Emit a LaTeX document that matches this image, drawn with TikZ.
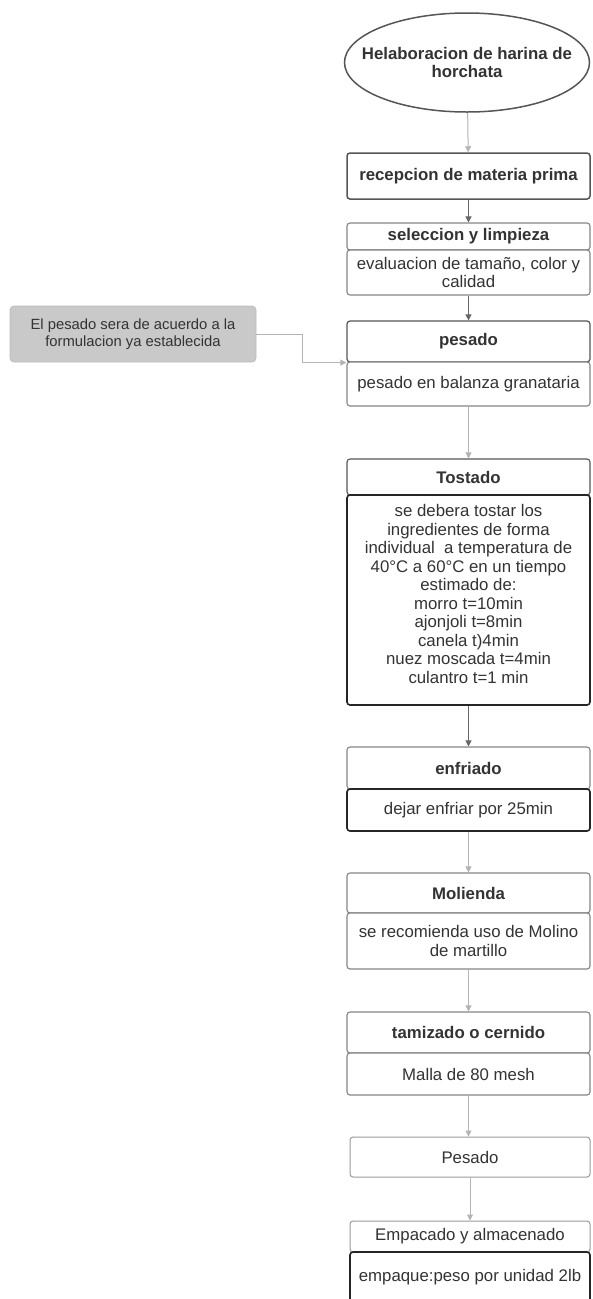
\documentclass[tikz,border=0pt]{standalone}
\usepackage{fontspec}
\setmainfont{Liberation Sans}
\usetikzlibrary{shapes.geometric,arrows.meta}
\definecolor{txt}{HTML}{333333}
\definecolor{bdark}{HTML}{555555}
\definecolor{bmid}{HTML}{858585}
\definecolor{blight}{HTML}{9A9A9A}
\definecolor{bblack}{HTML}{262626}
\definecolor{agray}{HTML}{B4B4B4}
\definecolor{adark}{HTML}{666666}
\definecolor{notefill}{HTML}{C9C9C9}
\definecolor{notedraw}{HTML}{BDBDBD}
\begin{document}
\begin{tikzpicture}[x=1pt,y=-1pt,
  base/.style={fill=white, rounded corners=3pt, inner sep=2pt, align=center, text=txt,
    font=\fontsize{16.8}{18.5}\selectfont},
  box/.style={base, draw=bmid, line width=1.1pt, minimum width=243pt},
  boxdark/.style={base, draw=bdark, line width=1.5pt, minimum width=243pt},
  boxlight/.style={base, draw=blight, line width=1pt, minimum width=240pt},
  boxblack/.style={base, draw=bblack, line width=1.6pt, minimum width=243pt},
  ttl/.style={font=\fontsize{16.8}{18.5}\selectfont\bfseries},
  note/.style={fill=notefill, draw=notedraw, line width=0.8pt, rounded corners=4pt,
    minimum width=246pt, minimum height=56pt, align=center, text=txt,
    font=\fontsize{14.8}{17}\selectfont},
  garrow/.style={draw=agray, line width=1pt, -{Triangle[length=6pt,width=6pt]}},
  darrow/.style={draw=adark, line width=1.2pt, -{Triangle[length=6pt,width=6pt]}},
]
\useasboundingbox (0,0) rectangle (592,1299);

% start ellipse
\node[ellipse, draw=bdark, line width=1.5pt, fill=white, minimum width=245pt, minimum height=99pt,
  inner xsep=-22pt, inner ysep=0pt, align=center, text=txt, ttl] (ell) at (467,62.5)
  {Helaboracion de harina de\\horchata};

% recepcion
\node[boxdark, ttl, minimum height=46pt] (rec) at (468.5,176) {recepcion de materia prima};

% seleccion
\node[box, ttl, minimum height=27pt] (selt) at (468.5,236.5) {seleccion y limpieza};
\node[box, minimum height=45pt] (selb) at (468.5,272.5) {evaluacion de tamaño, color y\\calidad};

% pesado
\node[boxdark, ttl, line width=1.2pt, minimum height=41pt] (pest) at (468.5,341.5) {pesado};
\node[box, minimum height=44pt] (pesb) at (468.5,384) {pesado en balanza granataria};

% note
\node[note] (note) at (133,334) {El pesado sera de acuerdo a la\\formulacion ya establecida};

% tostado
\node[box, ttl, draw=bdark, minimum height=36pt] (tost) at (468.5,477) {Tostado};
\node[boxblack, minimum height=210pt] (tosb) at (468.5,600) {se debera tostar los\\
ingredientes de forma\\
individual\ \ a temperatura de\\
40°C a 60°C en un tiempo\\
estimado de:\\
morro t=10min\\
ajonjoli t=8min\\
canela t)4min\\
nuez moscada t=4min\\
culantro t=1 min\\[-6pt]\mbox{}};

% enfriado
\node[box, ttl, minimum height=42pt] (enft) at (468.5,768) {enfriado};
\node[boxblack, minimum height=42pt] (enfb) at (468.5,810) {dejar enfriar por 25min};

% molienda
\node[box, ttl, minimum height=40pt] (molt) at (468.5,893) {Molienda};
\node[box, minimum height=56pt] (molb) at (468.5,941) {se recomienda uso de Molino\\de martillo};

% tamizado
\node[box, ttl, minimum height=41pt] (tamt) at (468.5,1032.5) {tamizado o cernido};
\node[box, minimum height=42pt] (tamb) at (468.5,1074) {Malla de 80 mesh};

% Pesado final
\node[boxlight, minimum height=40pt] (pes2) at (470,1157) {Pesado};

% Empacado
\node[boxlight, minimum height=31pt] (empt) at (470,1236.5) {Empacado y almacenado};
\node[boxblack, minimum width=240pt, minimum height=50pt] (empb) at (470,1277) {empaque:peso por unidad 2lb};

% connectors
\draw[garrow] (ell) -- (rec);
\draw[darrow] (rec) -- (selt);
\draw[darrow] (selb) -- (pest);
\draw[garrow] (note.east) -- ++(46,0) |- (pest.south west);
\draw[garrow] (pesb) -- (tost);
\draw[darrow] (tosb) -- (enft);
\draw[garrow] (enfb) -- (molt);
\draw[garrow] (molb) -- (tamt);
\draw[garrow] (tamb.south) -- (tamb.south |- pes2.north);
\draw[garrow] (pes2) -- (empt);
\end{tikzpicture}
\end{document}
